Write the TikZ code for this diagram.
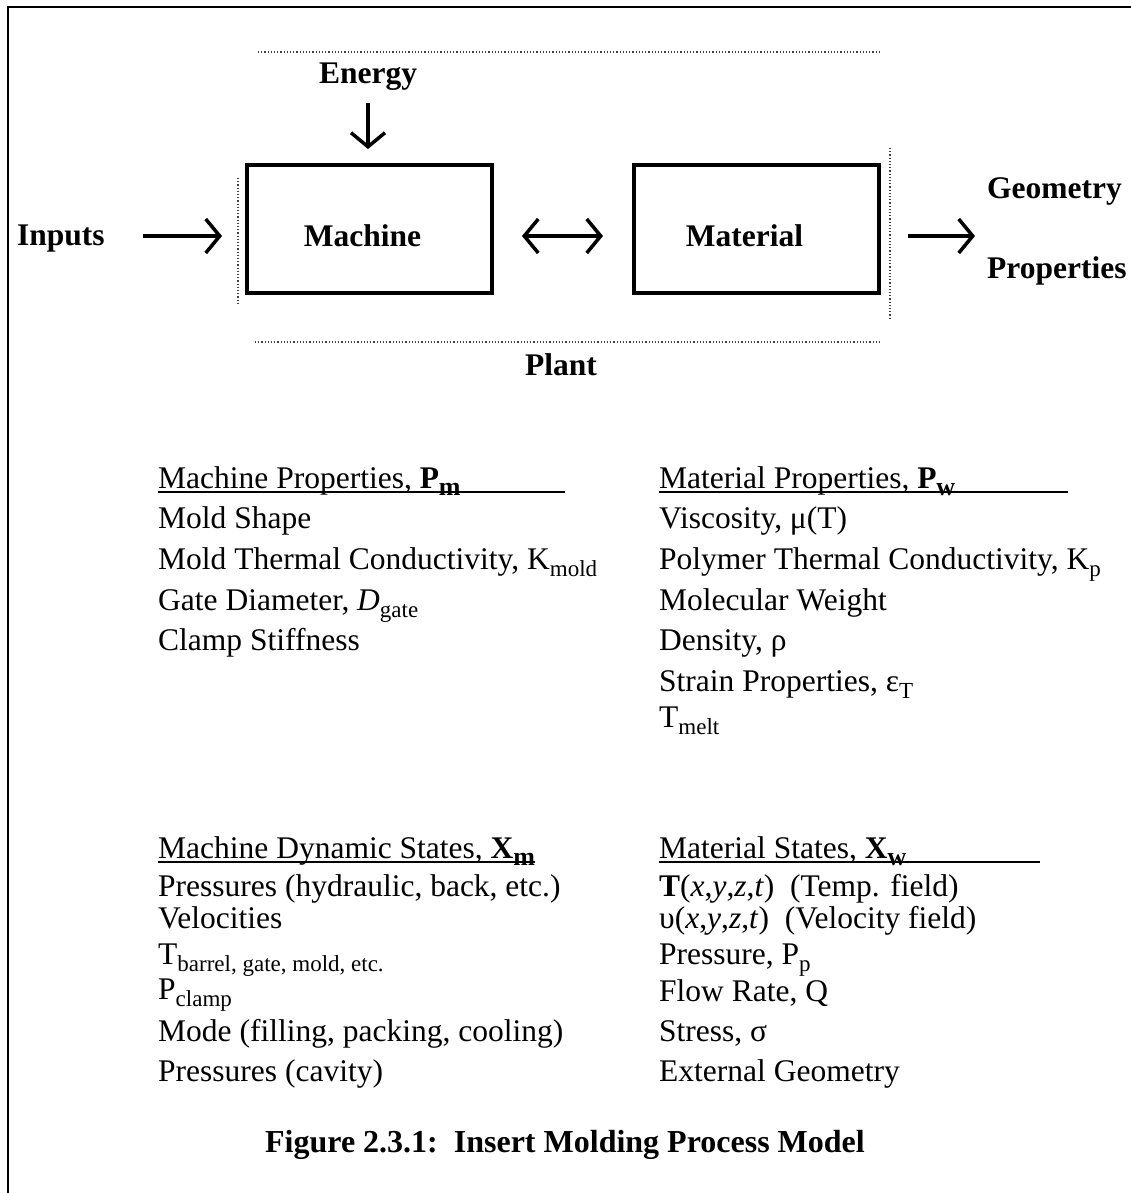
\documentclass[tikz,border=0pt]{standalone}
\usepackage{fontspec}
\setmainfont{Liberation Serif}
\usetikzlibrary{arrows.meta}
\newcommand\mysub[1]{\raisebox{-7pt}{\fontsize{23}{23}\selectfont #1}}
\newcommand\mysubb[1]{\raisebox{-7pt}{\fontsize{26}{26}\selectfont\bfseries #1}}
\begin{document}
\begin{tikzpicture}[x=1pt,y=-1pt,
  lbl/.style={font=\fontsize{31.5}{31.5}\selectfont\bfseries, inner sep=0pt},
  txt/.style={font=\fontsize{31.5}{31.5}\selectfont, inner sep=0pt, anchor=base west},
  blk/.style={draw, line width=4pt, minimum width=245pt, minimum height=128pt, inner sep=0pt},
  arr/.style={line width=3.5pt, -{Straight Barb[length=14pt,width=34pt,line width=3.5pt]}},
  darr/.style={line width=3.5pt, {Straight Barb[length=14pt,width=34pt,line width=3.5pt]}-{Straight Barb[length=14pt,width=34pt,line width=3.5pt]}},
  dots/.style={black!75, dotted, line width=1.2pt},
  frame/.style={line width=2pt},
  uline/.style={line width=1.4pt}]
\useasboundingbox (0,0) rectangle (1131,1193);
% outer frame (only top and left visible)
\coordinate (fTL) at (8,7);
\coordinate (fTR) at (1131,7);
\coordinate (fBL) at (8,1193);
\draw[frame] (fBL) -- (fTL) -- (fTR);
% plant dotted outline
\coordinate (pA) at (258,52);
\coordinate (pB) at (880,52);
\coordinate (pC) at (255,342);
\coordinate (pD) at (880,342);
\coordinate (pE) at (238,178);
\coordinate (pF) at (238,305);
\coordinate (pG) at (890,148);
\coordinate (pH) at (890,318);
\draw[dots] (pA) -- (pB);
\draw[dots] (pC) -- (pD);
\draw[dots] (pE) -- (pF);
\draw[dots] (pG) -- (pH);
% blocks
\node[blk] (mach) at (369.5,229) {};
\node[lbl] (machT) at ([xshift=-7pt,yshift=-7pt]mach.center) {Machine};
\node[blk] (mat) at (756.5,229) {};
\node[lbl] (matT) at ([xshift=-12pt,yshift=-7pt]mat.center) {Material};
\node[lbl] (energy) at (368,77) {Energy};
\node[lbl, anchor=west] (inputs) at (17,239) {Inputs};
\node[lbl, anchor=west] (geom) at (987,191) {Geometry};
\node[lbl, anchor=west] (props) at (987,271) {Properties};
\node[lbl] (plant) at (561,365) {Plant};
\coordinate (outEnd) at (975,236);
% connectors
\draw[arr, shorten <=12pt, shorten >=14pt] (energy.south) -- (energy.south |- mach.north);
\draw[arr, shorten <=38pt, shorten >=23pt] (inputs.east |- machT.center) -- (mach.west |- machT.center);
\draw[darr, shorten <=28pt, shorten >=29pt] (mach.east |- machT.center) -- (mat.west |- machT.center);
\draw[arr, shorten <=27pt] (mat.east |- matT.center) -- (outEnd);
% property lists
\node[txt] (h1) at (158,488) {Machine Properties, \textbf{P}\mysubb{m}};
\coordinate (u1a) at (158,492); \coordinate (u1b) at (565,492);
\draw[uline] (u1a) -- (u1b);
\node[txt] (a1) at (158,528) {Mold Shape};
\node[txt] (a2) at (158,569) {Mold Thermal Conductivity, K\mysub{mold}};
\node[txt] (a3) at (158,610) {Gate Diameter, \textit{D}\mysub{gate}};
\node[txt] (a4) at (158,650) {Clamp Stiffness};

\node[txt] (h2) at (659,488) {Material Properties, \textbf{P}\mysubb{w}};
\coordinate (u2a) at (659,492); \coordinate (u2b) at (1068,492);
\draw[uline] (u2a) -- (u2b);
\node[txt] (b1) at (659,528) {Viscosity, μ(T)};
\node[txt] (b2) at (659,569) {Polymer Thermal Conductivity, K\mysub{p}};
\node[txt] (b3) at (659,610) {Molecular Weight};
\node[txt] (b4) at (659,650) {Density, ρ};
\node[txt] (b5) at (659,691) {Strain Properties, ε\mysub{T}};
\node[txt] (b6) at (659,727) {T\mysub{melt}};

\node[txt] (h3) at (158,858) {Machine Dynamic States, \textbf{X}\mysubb{m}};
\coordinate (u3a) at (158,862); \coordinate (u3b) at (535,862);
\draw[uline] (u3a) -- (u3b);
\node[txt] (c1) at (158,896) {Pressures (hydraulic, back, etc.)};
\node[txt] (c2) at (158,928) {Velocities};
\node[txt] (c3) at (158,964) {T\mysub{barrel, gate, mold, etc.}};
\node[txt] (c4) at (158,999) {P\mysub{clamp}};
\node[txt] (c5) at (158,1041) {Mode (filling, packing, cooling)};
\node[txt] (c6) at (158,1081) {Pressures (cavity)};

\node[txt] (h4) at (659,858) {Material States, \textbf{X}\mysubb{w}};
\coordinate (u4a) at (659,862); \coordinate (u4b) at (1040,862);
\draw[uline] (u4a) -- (u4b);
\node[txt] (d1) at (659,896) {\textbf{T}(\textit{x},\textit{y},\textit{z},\textit{t})\ \ (Temp. field)};
\node[txt] (d2) at (659,928) {υ(\textit{x},\textit{y},\textit{z},\textit{t})\ \ (Velocity field)};
\node[txt] (d3) at (659,964) {Pressure, P\mysub{p}};
\node[txt] (d4) at (659,1001) {Flow Rate, Q};
\node[txt] (d5) at (659,1041) {Stress, σ};
\node[txt] (d6) at (659,1081) {External Geometry};

\node[lbl, font=\fontsize{32}{32}\selectfont\bfseries] (cap) at (565,1145) {Figure 2.3.1:\ \ Insert Molding Process Model};
\end{tikzpicture}
\end{document}
